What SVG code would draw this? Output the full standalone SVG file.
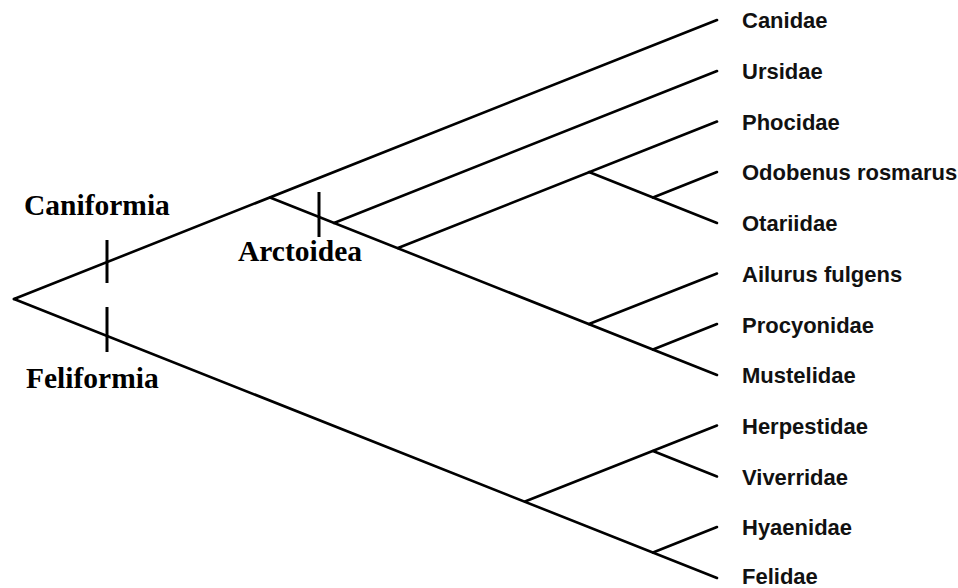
<svg xmlns="http://www.w3.org/2000/svg" width="958" height="588" viewBox="0 0 958 588">
<style>
.br{stroke:#000;stroke-width:2.6;fill:none;stroke-linecap:round}
.tk{stroke:#000;stroke-width:3;fill:none}
.tip{font-family:"Liberation Sans",Arial,sans-serif;font-weight:bold;font-size:22px;fill:#111}
.cl{font-family:"Liberation Serif","Times New Roman",serif;font-weight:bold;font-size:29.5px;fill:#000}
</style>
<rect width="958" height="588" fill="#fff"/>
<g id="connectors">
<line class="br" x1="14" y1="299" x2="717" y2="20"/>
<line class="br" x1="14" y1="299" x2="717" y2="578"/>
<line class="br" x1="270" y1="197.5" x2="717" y2="375"/>
<line class="br" x1="334" y1="223" x2="717" y2="71"/>
<line class="br" x1="398" y1="248" x2="717" y2="121.5"/>
<line class="br" x1="589" y1="172" x2="717" y2="223"/>
<line class="br" x1="653" y1="197.5" x2="717" y2="172"/>
<line class="br" x1="589" y1="324" x2="717" y2="273.5"/>
<line class="br" x1="653" y1="349.5" x2="717" y2="324"/>
<line class="br" x1="525" y1="501.5" x2="717" y2="425.5"/>
<line class="br" x1="653" y1="451" x2="717" y2="476.5"/>
<line class="br" x1="653" y1="552.5" x2="717" y2="527"/>
</g>
<g id="caniformia">
<line class="tk" x1="107" y1="240" x2="107" y2="283"/>
<text class="cl" x="24" y="215">Caniformia</text>
</g>
<g id="feliformia">
<line class="tk" x1="107" y1="307" x2="107" y2="352"/>
<text class="cl" x="26" y="388">Feliformia</text>
</g>
<g id="arctoidea">
<line class="tk" x1="319" y1="192" x2="319" y2="237"/>
<text class="cl" x="238" y="261">Arctoidea</text>
</g>
<g id="canidae"><text class="tip" x="742" y="28">Canidae</text></g>
<g id="ursidae"><text class="tip" x="742" y="79">Ursidae</text></g>
<g id="phocidae"><text class="tip" x="742" y="129.5">Phocidae</text></g>
<g id="odobenus"><text class="tip" x="742" y="180">Odobenus rosmarus</text></g>
<g id="otariidae"><text class="tip" x="742" y="231">Otariidae</text></g>
<g id="ailurus"><text class="tip" x="742" y="281.5">Ailurus fulgens</text></g>
<g id="procyonidae"><text class="tip" x="742" y="332.5">Procyonidae</text></g>
<g id="mustelidae"><text class="tip" x="742" y="383">Mustelidae</text></g>
<g id="herpestidae"><text class="tip" x="742" y="433.5">Herpestidae</text></g>
<g id="viverridae"><text class="tip" x="742" y="484.5">Viverridae</text></g>
<g id="hyaenidae"><text class="tip" x="742" y="535">Hyaenidae</text></g>
<g id="felidae"><text class="tip" x="742" y="583.5">Felidae</text></g>
</svg>
